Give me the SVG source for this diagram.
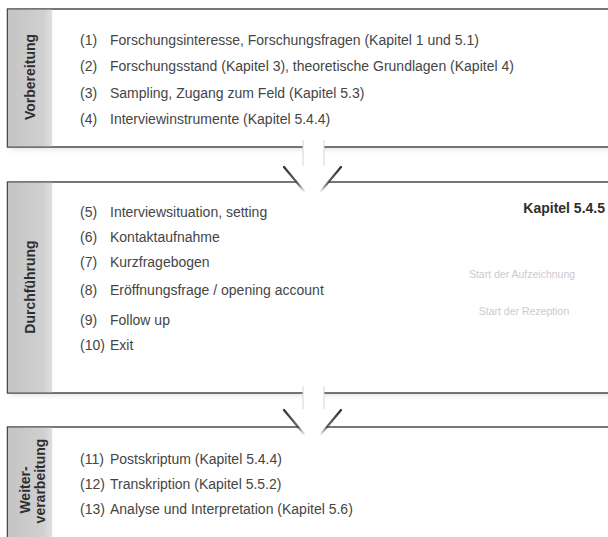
<svg xmlns="http://www.w3.org/2000/svg" width="608" height="537" viewBox="0 0 608 537">
<defs>
<linearGradient id="band" x1="0" y1="0" x2="1" y2="0">
<stop offset="0" stop-color="#c4c4c4"/>
<stop offset="0.8" stop-color="#d0d0d0"/>
<stop offset="1" stop-color="#e0e0e0"/>
</linearGradient>
<linearGradient id="fadeL" x1="0" y1="0" x2="1" y2="1">
<stop offset="0" stop-color="#2e2e2e" stop-opacity="1"/>
<stop offset="0.7" stop-color="#2e2e2e" stop-opacity="0.7"/>
<stop offset="1" stop-color="#2e2e2e" stop-opacity="0.1"/>
</linearGradient>
<linearGradient id="fadeR" x1="1" y1="0" x2="0" y2="1">
<stop offset="0" stop-color="#2e2e2e" stop-opacity="1"/>
<stop offset="0.7" stop-color="#2e2e2e" stop-opacity="0.7"/>
<stop offset="1" stop-color="#2e2e2e" stop-opacity="0.1"/>
</linearGradient>
<filter id="soft" x="-5%" y="-10%" width="110%" height="120%">
<feGaussianBlur stdDeviation="2.5"/>
</filter>
<style>
.box{fill:#ffffff;stroke:#4a4a4a;stroke-width:1.5}
.shadow{fill:#000000;opacity:0.09;filter:url(#soft)}
.band{fill:url(#band)}
.t{font-family:"Liberation Sans",Arial,sans-serif;font-size:14px;fill:#454545}
.lab{font-family:"Liberation Sans",Arial,sans-serif;font-size:14px;font-weight:bold;fill:#2e2e2e;text-anchor:middle}
.kap{font-family:"Liberation Sans",Arial,sans-serif;font-size:14px;font-weight:bold;fill:#2e2e2e;text-anchor:end}
.ghost{font-family:"Liberation Sans",Arial,sans-serif;font-size:10.5px;fill:#cbcbcb;text-anchor:middle}
.shaft{fill:#ffffff;stroke:none}
.shaftedge{stroke:#d6d6d6;stroke-width:1;fill:none}
.head{fill:#ffffff;stroke:none}
.edgeL{stroke:url(#fadeL);stroke-width:2.2;fill:none;stroke-linecap:round}
.edgeR{stroke:url(#fadeR);stroke-width:2.2;fill:none;stroke-linecap:round}
</style>
</defs>
<rect width="608" height="537" fill="#ffffff"/>

<g id="shadows">
<rect class="shadow" x="9" y="12" width="620" height="138"/>
<rect class="shadow" x="9" y="185" width="620" height="211"/>
<rect class="shadow" x="9" y="430" width="620" height="130"/>
</g>

<g id="vorbereitung">
<rect class="box" x="7.5" y="9" width="620" height="138"/>
<rect class="band" x="8.25" y="9.75" width="44" height="136.5"/>
<text class="lab" transform="translate(30,77) rotate(-90)" y="5">Vorbereitung</text>
<text class="t" x="80" y="45">(1)</text><text class="t" x="110" y="45">Forschungsinteresse, Forschungsfragen (Kapitel 1 und 5.1)</text>
<text class="t" x="80" y="71">(2)</text><text class="t" x="110" y="71">Forschungsstand (Kapitel 3), theoretische Grundlagen (Kapitel 4)</text>
<text class="t" x="80" y="98">(3)</text><text class="t" x="110" y="98">Sampling, Zugang zum Feld (Kapitel 5.3)</text>
<text class="t" x="80" y="124">(4)</text><text class="t" x="110" y="124">Interviewinstrumente (Kapitel 5.4.4)</text>
</g>

<g id="durchfuehrung">
<rect class="box" x="7.5" y="182" width="620" height="211"/>
<rect class="band" x="8.25" y="182.75" width="44" height="209.5"/>
<text class="lab" transform="translate(30,287) rotate(-90)" y="5">Durchführung</text>
<text class="kap" x="605" y="213">Kapitel 5.4.5</text>
<text class="t" x="80" y="217">(5)</text><text class="t" x="110" y="217">Interviewsituation, setting</text>
<text class="t" x="80" y="242">(6)</text><text class="t" x="110" y="242">Kontaktaufnahme</text>
<text class="t" x="80" y="267">(7)</text><text class="t" x="110" y="267">Kurzfragebogen</text>
<text class="t" x="80" y="295">(8)</text><text class="t" x="110" y="295">Eröffnungsfrage / opening account</text>
<text class="t" x="80" y="325">(9)</text><text class="t" x="110" y="325">Follow up</text>
<text class="t" x="80" y="350">(10)</text><text class="t" x="110" y="350">Exit</text>
<text class="ghost" x="522" y="278">Start der Aufzeichnung</text>
<text class="ghost" x="524" y="315">Start der Rezeption</text>
</g>

<g id="weiterverarbeitung">
<rect class="box" x="7.5" y="427" width="620" height="130"/>
<rect class="band" x="8.25" y="427.75" width="44" height="130"/>
<text class="lab" transform="translate(25,490) rotate(-90)" y="5">Weiter-</text>
<text class="lab" transform="translate(40,481) rotate(-90)" y="5">verarbeitung</text>
<text class="t" x="80" y="464">(11)</text><text class="t" x="110" y="464">Postskriptum (Kapitel 5.4.4)</text>
<text class="t" x="80" y="489">(12)</text><text class="t" x="110" y="489">Transkription (Kapitel 5.5.2)</text>
<text class="t" x="80" y="514">(13)</text><text class="t" x="110" y="514">Analyse und Interpretation (Kapitel 5.6)</text>
</g>

<g id="connectors">
<g id="arrow1">
<rect class="shaft" x="303" y="138" width="21" height="29"/>
<line class="shaftedge" x1="303" y1="140" x2="303" y2="166"/>
<line class="shaftedge" x1="324" y1="140" x2="324" y2="166"/>
<polygon class="head" points="283,166 342,166 312.5,201"/>
<line class="edgeL" x1="284" y1="167" x2="304" y2="191"/>
<line class="edgeR" x1="341" y1="167" x2="321" y2="191"/>
</g>
<g id="arrow2">
<rect class="shaft" x="303" y="384" width="21" height="26"/>
<line class="shaftedge" x1="303" y1="386" x2="303" y2="409"/>
<line class="shaftedge" x1="324" y1="386" x2="324" y2="409"/>
<polygon class="head" points="283,409 342,409 312.5,443"/>
<line class="edgeL" x1="284" y1="410" x2="304" y2="434"/>
<line class="edgeR" x1="341" y1="410" x2="321" y2="434"/>
</g>
</g>
</svg>
